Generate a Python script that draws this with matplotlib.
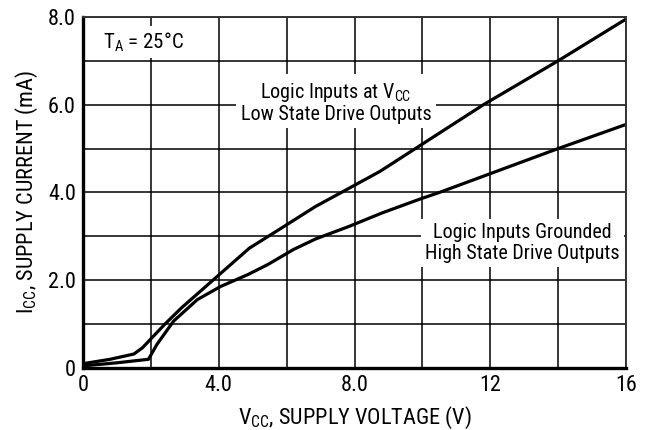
import matplotlib
matplotlib.use("Agg")
import matplotlib.pyplot as plt
from matplotlib import font_manager

names = {f.name for f in font_manager.fontManager.ttflist}
fam = "DejaVu Sans"
for cand in ["Liberation Sans Narrow", "Roboto Condensed", "Archivo Narrow", "PT Sans Narrow",
             "Pragati Narrow", "Barlow Semi Condensed", "Barlow Condensed"]:
    if cand in names:
        fam = cand
        break
plt.rcParams['font.family'] = [fam, 'DejaVu Sans']
plt.rcParams['mathtext.fontset'] = 'custom'
plt.rcParams['mathtext.rm'] = fam

# Data
vcc_high = [0, 0.8, 1.5, 1.75, 2.4, 2.9, 3.9, 4.9, 5.85, 6.85, 7.85, 8.75, 11.8, 14.0, 16.0]
icc_high = [0.1, 0.2, 0.32, 0.46, 0.99, 1.37, 2.05, 2.73, 3.19, 3.68, 4.1, 4.48, 6.0, 7.0, 7.95]

vcc_low = [0, 1.0, 1.93, 2.18, 2.67, 3.37, 4.06, 4.86, 5.45, 6.2, 6.85, 7.85, 8.8, 9.93, 10.5, 14.0, 16.0]
icc_low = [0.05, 0.12, 0.2, 0.54, 1.07, 1.56, 1.86, 2.13, 2.36, 2.7, 2.94, 3.23, 3.53, 3.85, 4.0, 5.0, 5.55]

xticks = [0, 4, 8, 12, 16]
xticklabels = ["0", "4.0", "8.0", "12", "16"]
yticks = [0, 2, 4, 6, 8]
yticklabels = ["0", "2.0", "4.0", "6.0", "8.0"]

fig = plt.figure(figsize=(6.53, 4.30), dpi=100)
ax = fig.add_axes([0.127, 0.144, 0.832, 0.817])

ax.set_xlim(0, 16)
ax.set_ylim(0, 8)
ax.set_xticks(range(0, 17, 2))
ax.set_yticks(range(0, 9, 1))
ax.grid(True, color='black', linewidth=1.1)
ax.set_axisbelow(True)
ax.tick_params(length=0, labelsize=16, pad=5)
ax.set_xticklabels([xticklabels[xticks.index(v)] if v in xticks else "" for v in range(0, 17, 2)])
ax.set_yticklabels([yticklabels[yticks.index(v)] if v in yticks else "" for v in range(0, 9)])

for s in ['left', 'bottom']:
    ax.spines[s].set_linewidth(2.4)
    ax.spines[s].set_color('black')
for s in ['top', 'right']:
    ax.spines[s].set_linewidth(1.4)
    ax.spines[s].set_color('#333333')

ax.plot(vcc_high, icc_high, color='black', linewidth=2.3, solid_capstyle='butt')
ax.plot(vcc_low, icc_low, color='black', linewidth=2.3, solid_capstyle='butt')

bbox = dict(facecolor='white', edgecolor='none', pad=3)
ax.text(0.6, 7.42, r"T$_\mathregular{A}$ = 25°C", fontsize=15, ha='left', va='center', bbox=bbox)
ax.text(7.45, 6.05, "Logic Inputs at V$_\\mathregular{CC}$\nLow State Drive Outputs",
        fontsize=14.5, ha='center', va='center', linespacing=1.1, bbox=bbox)
ax.text(12.95, 2.85, "Logic Inputs Grounded\nHigh State Drive Outputs",
        fontsize=14.5, ha='center', va='center', linespacing=1.1, bbox=bbox)

ax.set_xlabel("V$_\\mathregular{CC}$, SUPPLY VOLTAGE (V)", fontsize=16, labelpad=6)
ax.set_ylabel("I$_\\mathregular{CC}$, SUPPLY CURRENT (mA)", fontsize=16, labelpad=6)

fig.savefig("out.png", dpi=100)
